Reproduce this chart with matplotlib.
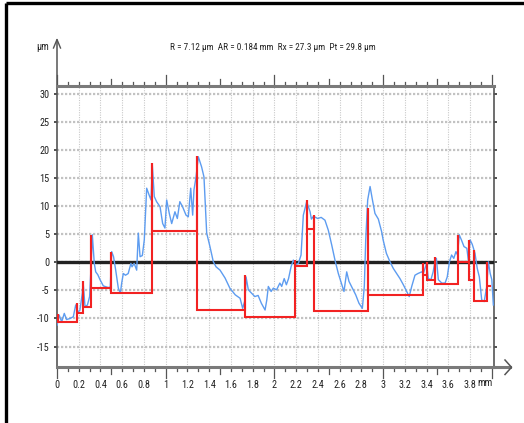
import numpy as np
import matplotlib
matplotlib.use("Agg")
import matplotlib.pyplot as plt
from matplotlib import font_manager

# ---------------- data ----------------
profile_x = [0.0, 0.02, 0.043, 0.067, 0.088, 0.12, 0.15, 0.172, 0.19, 0.21, 0.233, 0.24,
             0.258, 0.28, 0.30, 0.313, 0.325, 0.343, 0.356, 0.375, 0.396, 0.426, 0.472, 0.49,
             0.503, 0.52, 0.54, 0.564, 0.583, 0.595, 0.61, 0.63, 0.655, 0.68, 0.69, 0.71,
             0.733, 0.748, 0.764, 0.785, 0.803, 0.825, 0.847, 0.865, 0.877, 0.895, 0.916, 0.948,
             0.972, 0.993, 1.009, 1.033, 1.055, 1.085, 1.107, 1.13, 1.155, 1.187, 1.208, 1.23,
             1.248, 1.26, 1.279, 1.30, 1.33, 1.352, 1.377, 1.407, 1.438, 1.463, 1.50, 1.546,
             1.59, 1.64, 1.684, 1.708, 1.73, 1.739, 1.76, 1.79, 1.82, 1.85, 1.88, 1.914,
             1.93, 1.944, 1.97, 1.99, 2.02, 2.05, 2.067, 2.09, 2.11, 2.13, 2.153, 2.174,
             2.195, 2.22, 2.245, 2.266, 2.297, 2.328, 2.34, 2.36, 2.398, 2.43, 2.465, 2.496,
             2.527, 2.557, 2.588, 2.625, 2.64, 2.665, 2.686, 2.717, 2.748, 2.778, 2.809, 2.827,
             2.84, 2.858, 2.88, 2.9, 2.925, 2.956, 2.987, 3.0, 3.03, 3.063, 3.094, 3.125,
             3.155, 3.186, 3.217, 3.24, 3.263, 3.293, 3.32, 3.355, 3.37, 3.40, 3.416, 3.44,
             3.46, 3.477, 3.49, 3.508, 3.54, 3.57, 3.59, 3.61, 3.63, 3.65, 3.67, 3.685,
             3.70, 3.72, 3.744, 3.77, 3.784, 3.80, 3.82, 3.845, 3.866, 3.885, 3.907, 3.93,
             3.953, 3.968, 3.985, 4.0, 4.014]
profile_y = [-11.2, -9.4, -10.6, -9.1, -10.2, -10.0, -9.7, -7.6, -8.8, -8.6, -5.5, -3.5,
             -7.9, -7.6, -6.1, -0.8, 4.9, -0.2, -1.7, -2.2, -3.1, -4.2, -4.5, -4.4,
             1.9, 1.0, -1.4, -4.6, -5.5, -3.7, -2.0, -2.3, -2.0, -0.2, -0.8, -0.2,
             -1.4, 5.2, 1.0, 1.2, 4.0, 13.2, 12.0, 11.1, 17.3, 11.7, 10.8, 9.9,
             6.9, 6.1, 11.1, 8.7, 6.9, 9.0, 7.8, 10.8, 9.9, 8.4, 8.1, 13.2,
             8.4, 12.9, 15.2, 18.8, 17.0, 15.2, 5.2, 2.8, 0.1, -0.8, -1.4, -2.8,
             -4.6, -5.8, -6.4, -8.2, -6.7, -2.6, -4.9, -5.5, -6.1, -5.9, -7.3, -8.5,
             -6.7, -4.3, -5.2, -4.6, -4.9, -3.7, -4.3, -2.9, -4.0, -2.9, -0.8, 0.4,
             -0.4, -0.2, 1.3, 8.4, 10.8, 9.0, 7.7, 8.2, 7.8, 8.0, 7.5, 5.7,
             3.1, 0.4, -2.0, -4.3, -5.2, -1.7, -3.4, -4.6, -5.8, -7.3, -8.2, -4.3,
             4.0, 11.1, 13.5, 11.3, 8.7, 7.7, 5.4, 4.0, 1.6, 0.1, -1.1, -2.0,
             -2.9, -4.0, -5.2, -6.1, -4.3, -2.3, -2.0, -1.7, -2.0, -0.2, -2.9, -3.1,
             -1.7, 0.1, 0.7, -3.1, -3.7, -3.7, -2.6, 0.1, 1.3, 0.7, 1.9, 1.3,
             4.9, 4.0, 2.8, 2.5, 0.4, 4.0, 3.2, 1.6, -1.1, -2.6, -6.7, -7.0,
             -4.3, 0.1, -2.0, -3.1, -7.6]

motif_start = [0.01, 0.18, 0.236, 0.313, 0.497, 0.871, 1.285, 1.73, 2.19, 2.297,
               2.367, 2.864, 3.37, 3.40, 3.477, 3.69, 3.79, 3.84, 3.953]
motif_end = [0.18, 0.236, 0.313, 0.497, 0.871, 1.285, 1.73, 2.19, 2.297, 2.367,
             2.864, 3.37, 3.40, 3.477, 3.69, 3.79, 3.84, 3.953, 3.98]
motif_peak = [-9.2, -7.2, -3.4, 4.9, 1.9, 17.6, 18.9, -2.3, 0.4, 11.1,
              8.4, 9.6, -0.1, 0.1, 1.0, 4.9, 4.0, 2.2, 0.1]
motif_level = [-10.7, -9.1, -7.9, -4.5, -5.5, 5.6, -8.5, -9.8, -0.6, 6.0,
               -8.6, -5.8, -2.3, -3.15, -3.9, 0.1, -3.15, -6.9, -4.3]

x_tick_values = [0, 0.2, 0.4, 0.6, 0.8, 1, 1.2, 1.4, 1.6, 1.8, 2, 2.2, 2.4, 2.6, 2.8,
                 3, 3.2, 3.4, 3.6, 3.8]
y_tick_values = [-15, -10, -5, 0, 5, 10, 15, 20, 25, 30]
title_text = "R = 7.12 µm  AR = 0.184 mm  Rx = 27.3 µm  Pt = 29.8 µm"
x_unit = "mm"
y_unit = "µm"

# ---------------- font choice (narrow face wanted) ----------------
entries = font_manager.fontManager.ttflist
names = {f.name for f in entries}
FONT, STRETCH, SCALE = "DejaVu Sans", "normal", 0.62
for cand in ["Liberation Sans Narrow", "Roboto Condensed", "Open Sans Condensed", "Arial Narrow"]:
    if cand in names:
        FONT, STRETCH, SCALE = cand, "normal", 1.0
        break
else:
    cond = [f for f in entries if f.name == "DejaVu Sans" and "Condensed" in f.fname]
    if cond:
        FONT, STRETCH, SCALE = "DejaVu Sans", "condensed", 0.68
plt.rcParams["font.family"] = [FONT, "DejaVu Sans"]
plt.rcParams["font.stretch"] = STRETCH
fs_tick = 7.4 * SCALE
fs_title = 6.7 * SCALE

W, H = 524, 423
L, R, T, B = 57, 494, 86, 367.3
fig = plt.figure(figsize=(W / 100, H / 100), dpi=100)
fig.patch.set_facecolor("white")

ov = fig.add_axes([0, 0, 1, 1])
ov.set_xlim(0, W)
ov.set_ylim(H, 0)
ov.axis("off")

ax = fig.add_axes([L / W, 1 - B / H, (R - L) / W, (B - T) / H])
ax.set_xlim(0, 4.02)
ax.set_ylim(-18.7, 31.4)
ax.set_facecolor("white")

for v in x_tick_values[1:]:
    ax.axvline(v, color="#c9c9c9", lw=0.8, ls=(0, (1, 1.2)), zorder=1)
for v in y_tick_values:
    ax.axhline(v, color="#c2c2c2", lw=1.6, ls=(0, (1, 0.8)), zorder=1)

ax.axhline(0, color="#222222", lw=2.4, zorder=3)
ax.plot(profile_x, profile_y, color="#5d9cf0", lw=1.0, zorder=4)

sx, sy = [], []
prev = motif_level[0]
for s, e, p, lv in zip(motif_start, motif_end, motif_peak, motif_level):
    sx += [s, s, s, e]
    sy += [prev, p, lv, lv]
    prev = lv
ax.plot(sx, sy, color="#f22222", lw=1.5, zorder=5, solid_joinstyle="miter")

for sp in ["top", "bottom"]:
    ax.spines[sp].set_color("#7a7a7a")
    ax.spines[sp].set_linewidth(2.2)
for sp in ["left", "right"]:
    ax.spines[sp].set_color("#555555")
    ax.spines[sp].set_linewidth(1.2)

ax.set_xticks(x_tick_values)
ax.set_xticklabels([f"{v:g}" for v in x_tick_values], fontsize=fs_tick)
ax.tick_params(axis="x", length=0, pad=9, colors="#222222")
ax.set_yticks(y_tick_values)
ax.set_yticklabels([f"{v:g}" for v in y_tick_values], fontsize=fs_tick)
ax.tick_params(axis="y", which="major", left=True, right=True, direction="out",
               length=2.5, width=1.1, pad=3, colors="#222222")

trans = ax.get_xaxis_transform()
ph = B - T
for i in range(0, 41):
    v = i * 0.1
    ln = 11 if i % 10 == 0 else (7 if i % 5 == 0 else 4)
    ax.plot([v, v], [1, 1 + ln / ph], transform=trans, color="#555555", lw=0.9, clip_on=False)
    ax.plot([v, v], [0, -ln / ph], transform=trans, color="#555555", lw=0.9, clip_on=False)

ov.plot([L, L], [T, 40], color="#555555", lw=1.1)
ov.plot([L - 3.5, L, L + 3.5], [48, 39.5, 48], color="#555555", lw=1.0)
ov.plot([R, 510], [B, B], color="#7a7a7a", lw=2.2)
ov.plot([505, 511.5, 505], [360, B, 374.5], color="#555555", lw=1.1)

ov.text(43, 47, y_unit, fontsize=fs_tick, ha="center", va="center", color="#222222")
ov.text(485, 383.5, x_unit, fontsize=fs_tick, ha="center", va="center", color="#222222")
ov.text(273, 47, title_text, fontsize=fs_title, ha="center", va="center", color="#222222")

ov.plot([5.5, 5.5], [H, 2.8], color="black", lw=2.4, solid_capstyle="butt")
ov.plot([5.5, W], [2.8, 2.8], color="black", lw=2.4, solid_capstyle="butt")

fig.savefig("out.png", dpi=100, facecolor="white")
